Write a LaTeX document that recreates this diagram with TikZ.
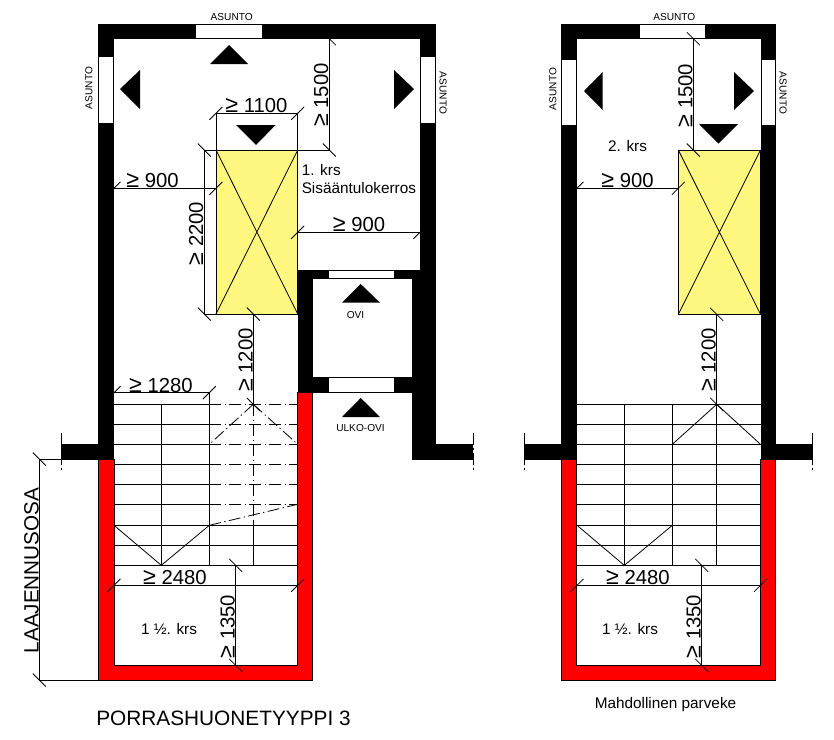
\documentclass[tikz,border=0pt]{standalone}
\usepackage{fontspec}
\setmainfont{Liberation Sans}
\newcommand{\fsDim}{\fontsize{15.2}{15.2}\selectfont}
\newcommand{\fsMid}{\fontsize{11.5}{13.5}\selectfont}
\newcommand{\fsSmall}{\fontsize{7.6}{9}\selectfont}
\newcommand{\fsBig}{\fontsize{15.6}{18}\selectfont}
\newcommand{\gesym}{{\fontsize{17.5}{15}\selectfont ≥}}
\newcommand{\tickA}[2]{\draw[dimline] (#1,#2) ++(-6.5,6.5) -- ++(13,-13);}
\newcommand{\tickB}[2]{\draw[dimline] (#1,#2) ++(-6.5,-6.5) -- ++(13,13);}
\tikzset{
  wallblack/.style={fill=black,draw=none},
  wallred/.style={fill=red,draw=black,line width=0.6pt},
  gapdoor/.style={fill=white,draw=black,line width=0.6pt},
  lift/.style={fill=yellow!50!white,draw=black,line width=0.75pt},
  dimline/.style={draw=black,line width=0.6pt},
  chain/.style={draw=black,line width=0.6pt,dash pattern=on 9pt off 2.5pt on 1pt off 2.5pt},
  arrowmark/.style={fill=black,draw=none},
  dimtext/.style={inner sep=0pt,font=\fsDim,anchor=base},
  dimrot/.style={inner sep=0pt,font=\fsDim,anchor=base,rotate=90},
  midtext/.style={inner sep=0pt,font=\fsMid,anchor=base},
  smalltext/.style={inner sep=0pt,font=\fsSmall},
}
\begin{document}
\begin{tikzpicture}[x=0.75pt,y=-0.75pt]
\useasboundingbox (0,0) rectangle (834,739);
% ---------- LEFT PLAN: walls
\fill[wallred] (98.5,459) -- (98.5,680) -- (312.5,680) -- (312.5,392.7) -- (297.7,392.7) -- (297.7,665.3) -- (114,665.3) -- (114,459) -- cycle;
\fill[wallblack] (98,24) rectangle (436,38.7);
\fill[wallblack] (98,24) rectangle (114,459.5);
\fill[wallblack] (61,444) rectangle (98,459.5);
\fill[wallblack] (420,24) rectangle (436,270);
\fill[wallblack] (297.7,270) rectangle (436,278.7);
\fill[wallblack] (297.7,270) rectangle (312.7,392.7);
\fill[wallblack] (412,270) rectangle (436,460);
\fill[wallblack] (412,444) rectangle (473,460);
\fill[wallblack] (297.7,376.7) rectangle (412,392.7);
% doors
\draw[gapdoor] (195.7,24.5) rectangle (262,38.2);
\draw[gapdoor] (98.5,56.7) rectangle (113.5,123);
\draw[gapdoor] (420.7,56.7) rectangle (435.5,123);
\draw[gapdoor] (328,270.5) rectangle (394,278.2);
\draw[gapdoor] (328,377.2) rectangle (394,392.4);
\draw[dimline] (298,392.7) -- (412,392.7);
\draw[chain] (61.5,433) -- (61.5,471);
\draw[chain] (473,433) -- (473,471);
% direction marks
\fill[arrowmark] (229,45) -- (248,64) -- (210,64) -- cycle;
\fill[arrowmark] (120,89) -- (140,70) -- (140,109) -- cycle;
\fill[arrowmark] (414,89) -- (394,70) -- (394,109) -- cycle;
\fill[arrowmark] (256,145) -- (275.5,125) -- (236,125) -- cycle;
\fill[arrowmark] (360.7,284) -- (380,302.7) -- (342,302.7) -- cycle;
\fill[arrowmark] (360.7,398) -- (380,417) -- (342,417) -- cycle;
% lift
\draw[lift] (216,150) rectangle (297.7,314);
\draw[dimline] (216,150) -- (297.7,314) (297.7,150) -- (216,314);
% stairs
\foreach \yy in {404.3,424.3,444.3,464.3,484.3,504.3}{
  \draw[dimline] (114,\yy) -- (209.3,\yy);
  \draw[chain] (209.3,\yy) -- (297.7,\yy);
}
\foreach \yy in {525.3,545.3,565.3}{ \draw[dimline] (114,\yy) -- (297.7,\yy); }
\draw[dimline] (161.3,404.3) -- (161.3,565.3);
\draw[dimline] (209.3,392.7) -- (209.3,565.3);
\draw[chain] (253.3,404.3) -- (253.3,520);
\draw[dimline] (253.3,520) -- (253.3,565.3);
\draw[chain] (253.3,404.3) -- (209.3,444.3);
\draw[chain] (253.3,404.3) -- (297.7,444.3);
\draw[chain] (209.3,525.3) -- (297.7,504.3);
\draw[dimline] (114,525.3) -- (161.3,565.3) -- (209.3,525.3);
% dimensions
\draw[dimline] (216,150) -- (216,113.3) -- (297.7,113.3) -- (297.7,150);
\tickA{216}{113.3}\tickA{297.7}{113.3}
\draw[dimline] (297.7,150) -- (329.3,150) -- (329.3,38.7);
\tickB{329.3}{38.7}\tickB{329.3}{150}
\draw[dimline] (114,188.3) -- (216,188.3);
\tickA{114}{188.3}\tickA{216}{188.3}
\draw[dimline] (216,150) -- (204.3,150) -- (204.3,314) -- (216,314);
\tickB{204.3}{150}\tickB{204.3}{314}
\draw[dimline] (297.7,232.3) -- (420,232.3);
\tickA{297.7}{232.3}\tickA{420}{232.3}
\draw[dimline] (253.3,314) -- (253.3,404.3);
\tickB{253.3}{314}\tickB{253.3}{404.3}
\draw[dimline] (114,392.7) -- (209.3,392.7);
\tickA{114}{392.7}\tickA{209.3}{392.7}
\draw[dimline] (114,585.3) -- (297.7,585.3);
\tickA{114}{585.3}\tickA{297.7}{585.3}
\draw[dimline] (235.7,565.3) -- (235.7,665.3);
\tickB{235.7}{565.3}\tickB{235.7}{665.3}
\draw[dimline] (98,459) -- (39.3,459) -- (39.3,680) -- (98,680);
\tickB{39.3}{459}\tickB{39.3}{680}
% labels
\node[smalltext] (la1) at (231.7,17.5) {ASUNTO};
\node[smalltext,rotate=90] (la2) at (89,88) {ASUNTO};
\node[smalltext,rotate=-90] (la3) at (443,93) {ASUNTO};
\node[smalltext] (lovi) at (355.5,315.5) {OVI};
\node[smalltext] (lulko) at (360.5,428.5) {ULKO-OVI};
\node[dimtext] (ld1) at (256.5,112) {\gesym{} 1100};
\node[dimrot] (ld2) at (328,95) {\gesym{} 1500};
\node[dimtext] (ld3) at (152.5,187.5) {\gesym{} 900};
\node[dimrot] (ld4) at (203,233.5) {\gesym{} 2200};
\node[dimtext] (ld5) at (359,231.5) {\gesym{} 900};
\node[dimrot] (ld6) at (252.5,360) {\gesym{} 1200};
\node[dimtext] (ld7) at (161,392) {\gesym{} 1280};
\node[dimtext] (ld8) at (175,584.5) {\gesym{} 2480};
\node[dimrot] (ld9) at (234.7,626.5) {\gesym{} 1350};
\node[midtext,align=left,anchor=north west] (lk1) at (301.5,164.5) {1. krs\\Sisääntulokerros};
\node[midtext] (lk2) at (169,634) {1 ½. krs};
\node[inner sep=0pt,anchor=base,rotate=90,font=\fontsize{15.5}{15.5}\selectfont] (llaa) at (38.5,570.5) {LAAJENNUSOSA};
\node[inner sep=0pt,font=\fsBig,anchor=base] (ltitle) at (223.5,725) {PORRASHUONETYYPPI 3};
% ---------- RIGHT PLAN: walls
\fill[wallred] (561.5,459) -- (561.5,680) -- (775.7,680) -- (775.7,459) -- (760.5,459) -- (760.5,665.3) -- (576.5,665.3) -- (576.5,459) -- cycle;
\fill[wallblack] (561,24) rectangle (776,38.7);
\fill[wallblack] (561,24) rectangle (577,460);
\fill[wallblack] (760.5,24) rectangle (776,460);
\fill[wallblack] (524,444) rectangle (577,460);
\fill[wallblack] (760.5,444) rectangle (812.7,460);
\draw[gapdoor] (639,24.5) rectangle (705,38.2);
\draw[gapdoor] (561.5,59) rectangle (576.5,125);
\draw[gapdoor] (761,59) rectangle (775.5,125);
\draw[chain] (524.5,433) -- (524.5,471);
\draw[chain] (812.5,433) -- (812.5,471);
\fill[arrowmark] (584,91) -- (602.7,72) -- (602.7,110) -- cycle;
\fill[arrowmark] (754,91) -- (734,72) -- (734,110) -- cycle;
\fill[arrowmark] (718.5,143.7) -- (738,124) -- (699,124) -- cycle;
\draw[lift] (678.3,150) rectangle (760.5,314.3);
\draw[dimline] (678.3,150) -- (760.5,314.3) (760.5,150) -- (678.3,314.3);
\foreach \yy in {404.3,424.3,444.3,464.3,484.3,504.3,525.3,545.3,565.3}{ \draw[dimline] (577,\yy) -- (760.5,\yy); }
\draw[dimline] (624.3,404.3) -- (624.3,565.3);
\draw[dimline] (672.3,404.3) -- (672.3,565.3);
\draw[dimline] (716.7,314.3) -- (716.7,565.3);
\draw[dimline] (672.3,444.3) -- (716.7,404.3) -- (760.5,444.3);
\draw[dimline] (577,525.3) -- (624.3,565.3) -- (672.3,525.3);
\draw[dimline] (693.3,38.7) -- (693.3,150);
\tickB{693.3}{38.7}\tickB{693.3}{150}
\draw[dimline] (577,188.3) -- (678.3,188.3);
\tickA{577}{188.3}\tickA{678.3}{188.3}
\tickB{716.7}{314.3}\tickB{716.7}{404.3}
\draw[dimline] (577,585.3) -- (760.5,585.3);
\tickA{577}{585.3}\tickA{760.5}{585.3}
\draw[dimline] (701.7,565.3) -- (701.7,665.3);
\tickB{701.7}{565.3}\tickB{701.7}{665.3}
\node[smalltext] (ra1) at (674.3,17.5) {ASUNTO};
\node[smalltext,rotate=90] (ra2) at (553,89) {ASUNTO};
\node[smalltext,rotate=-90] (ra3) at (783,93) {ASUNTO};
\node[dimrot] (rd1) at (692.3,95.5) {\gesym{} 1500};
\node[dimtext] (rd2) at (627.5,187.5) {\gesym{} 900};
\node[dimrot] (rd3) at (715.7,360) {\gesym{} 1200};
\node[dimtext] (rd4) at (638,584.5) {\gesym{} 2480};
\node[dimrot] (rd5) at (700.7,626.5) {\gesym{} 1350};
\node[midtext] (rk1) at (627.5,151) {2. krs};
\node[midtext] (rk2) at (630,634) {1 ½. krs};
\node[inner sep=0pt,font=\fsMid,anchor=base] (rtitle) at (665.5,708) {Mahdollinen parveke};
\end{tikzpicture}
\end{document}
